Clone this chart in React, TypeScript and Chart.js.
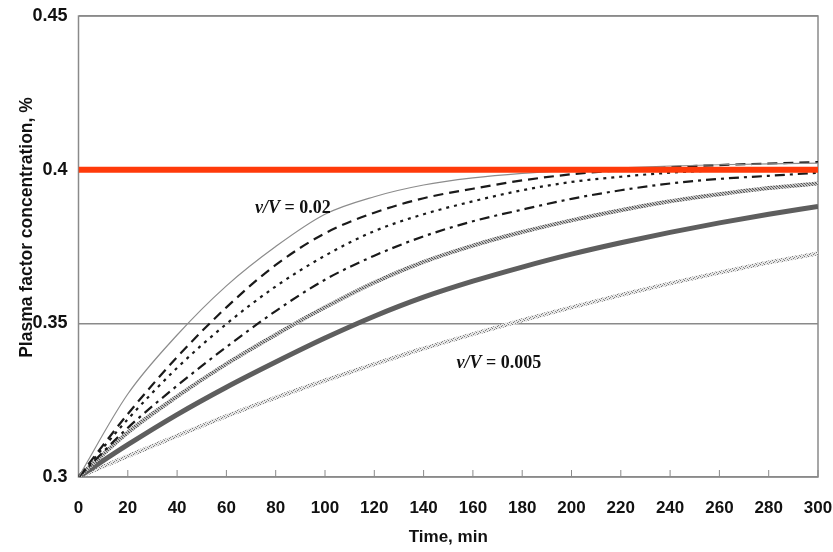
import React, { useEffect, useRef } from "react";
import { Chart, registerables } from "chart.js";

Chart.register(...registerables);

const TIME = [0, 20, 40, 60, 80, 100, 120, 140, 160, 180, 200, 220, 240, 260, 280, 300];
const X_TICKS = [0, 20, 40, 60, 80, 100, 120, 140, 160, 180, 200, 220, 240, 260, 280, 300];
const Y_TICKS = [0.3, 0.35, 0.4, 0.45];

const CURVE_SOLID = [0.3, 0.327, 0.3462, 0.3622, 0.375, 0.3855, 0.3912, 0.395, 0.3973, 0.3988, 0.3998, 0.4006, 0.4012, 0.4016, 0.4019, 0.4021];
const CURVE_DASH = [0.3, 0.3205, 0.339, 0.3552, 0.369, 0.3793, 0.386, 0.3907, 0.3938, 0.3965, 0.3985, 0.3998, 0.4008, 0.4015, 0.402, 0.4025];
const CURVE_DOT = [0.3, 0.3188, 0.3355, 0.3498, 0.362, 0.372, 0.38, 0.3855, 0.3897, 0.3933, 0.396, 0.3977, 0.399, 0.3998, 0.4003, 0.4005];
const CURVE_DASHDOT = [0.3, 0.316, 0.3297, 0.3423, 0.354, 0.3642, 0.372, 0.3783, 0.3832, 0.387, 0.3905, 0.3933, 0.3955, 0.397, 0.398, 0.399];
const CURVE_HATCH = [0.3, 0.3145, 0.3262, 0.3368, 0.3463, 0.3552, 0.3633, 0.37, 0.3753, 0.3797, 0.3835, 0.3868, 0.3897, 0.392, 0.394, 0.3955];
const CURVE_THICK = [0.3, 0.3105, 0.3203, 0.3292, 0.3374, 0.3452, 0.3523, 0.3585, 0.3637, 0.3683, 0.3725, 0.3762, 0.3796, 0.3827, 0.3855, 0.388];
const CURVE_LIGHT = [0.3, 0.3068, 0.3134, 0.3198, 0.3258, 0.3314, 0.3367, 0.3418, 0.3465, 0.351, 0.3552, 0.3592, 0.363, 0.3665, 0.3698, 0.3727];

const TARGET_LEVEL = 0.4;

const LABEL_HIGH = { t: 87, v: 0.3873, ratio: "0.02" };
const LABEL_LOW = { t: 170.5, v: 0.337, ratio: "0.005" };

function makePattern(size: number, cells: [number, number, string][], bg: string) {
  const c = document.createElement("canvas");
  c.width = size;
  c.height = size;
  const g = c.getContext("2d")!;
  g.fillStyle = bg;
  g.fillRect(0, 0, size, size);
  cells.forEach(([x, y, col]) => {
    g.fillStyle = col;
    g.fillRect(x, y, 1, 1);
  });
  return g.createPattern(c, "repeat")!;
}

const pts = (arr: number[]) => arr.map((v, i) => ({ x: TIME[i], y: v }));

const boxPlugin = {
  id: "boxPlugin",
  beforeDatasetsDraw(chart: any) {
    const { ctx, chartArea: a, scales } = chart;
    ctx.save();
    ctx.strokeStyle = "#8a8a8a";
    ctx.lineWidth = 1.5;
    ctx.strokeRect(a.left, a.top, a.right - a.left, a.bottom - a.top);
    ctx.lineWidth = 1;
    X_TICKS.forEach((t) => {
      const x = scales.x.getPixelForValue(t);
      ctx.beginPath();
      ctx.moveTo(x, a.bottom);
      ctx.lineTo(x, a.bottom - 7);
      ctx.stroke();
    });
    ctx.restore();
  },
  afterDraw(chart: any) {
    const { ctx, chartArea: a, scales } = chart;
    ctx.save();
    ctx.translate(27.5, (a.top + a.bottom) / 2 - 19);
    ctx.rotate(-Math.PI / 2);
    ctx.fillStyle = "#111";
    ctx.font = "bold 17.5px 'Liberation Sans', Arial, sans-serif";
    ctx.textAlign = "center";
    ctx.textBaseline = "middle";
    ctx.fillText("Plasma factor concentration, %", 0, 0);
    ctx.restore();

    const drawLabel = (lab: { t: number; v: number; ratio: string }) => {
      const cx = scales.x.getPixelForValue(lab.t);
      const cy = scales.y.getPixelForValue(lab.v);
      ctx.save();
      ctx.fillStyle = "#111";
      ctx.textBaseline = "middle";
      const f1 = "italic bold 18px 'Liberation Serif', 'Times New Roman', serif";
      const f2 = "bold 18px 'Liberation Serif', 'Times New Roman', serif";
      const p1 = "v/V";
      const p2 = " = " + lab.ratio;
      ctx.font = f1;
      const w1 = ctx.measureText(p1).width;
      ctx.font = f2;
      const w2 = ctx.measureText(p2).width;
      const x0 = cx - (w1 + w2) / 2;
      ctx.font = f1;
      ctx.textAlign = "left";
      ctx.fillText(p1, x0, cy);
      ctx.font = f2;
      ctx.fillText(p2, x0 + w1, cy);
      ctx.restore();
    };
    drawLabel(LABEL_HIGH);
    drawLabel(LABEL_LOW);
  },
};

export default function App() {
  const ref = useRef<HTMLCanvasElement | null>(null);

  useEffect(() => {
    const canvas = ref.current!;
    const ctx = canvas.getContext("2d")!;
    const hatch = makePattern(
      3,
      [
        [0, 0, "#555"],
        [1, 1, "#666"],
        [2, 2, "#555"],
        [2, 0, "#999"],
      ],
      "#c4c4c4"
    );
    const light = makePattern(
      4,
      [
        [0, 0, "#777"],
        [2, 1, "#888"],
        [1, 2, "#777"],
        [3, 3, "#888"],
      ],
      "#e6e6e6"
    );

    const common = { pointRadius: 0, fill: false, cubicInterpolationMode: "monotone" as const };

    const chart = new Chart(ctx, {
      type: "line",
      data: {
        datasets: [
          {
            ...common,
            label: "Target",
            data: [
              { x: 0, y: TARGET_LEVEL },
              { x: 300, y: TARGET_LEVEL },
            ],
            borderColor: "#ff3a0a",
            borderWidth: 6,
          },
          { ...common, label: "v/V = 0.02", data: pts(CURVE_SOLID), borderColor: "#8c8c8c", borderWidth: 1.2 },
          { ...common, label: "dash", data: pts(CURVE_DASH), borderColor: "#1a1a1a", borderWidth: 2.2, borderDash: [10, 6] },
          { ...common, label: "dot", data: pts(CURVE_DOT), borderColor: "#1a1a1a", borderWidth: 2.2, borderDash: [3, 5] },
          { ...common, label: "dashdot", data: pts(CURVE_DASHDOT), borderColor: "#1a1a1a", borderWidth: 2.2, borderDash: [10, 5, 3, 5] },
          { ...common, label: "hatch", data: pts(CURVE_HATCH), borderColor: hatch as any, borderWidth: 4 },
          { ...common, label: "thick", data: pts(CURVE_THICK), borderColor: "#5e5e5e", borderWidth: 5 },
          { ...common, label: "v/V = 0.005", data: pts(CURVE_LIGHT), borderColor: light as any, borderWidth: 4 },
        ],
      },
      options: {
        animation: false,
        responsive: false,
        layout: { padding: { top: 16, right: 15, left: 0, bottom: 0 } },
        plugins: { legend: { display: false }, tooltip: { enabled: false } },
        scales: {
          x: {
            type: "linear",
            min: 0,
            max: 300,
            afterFit: (s: any) => {
              s.height = 75;
              s.paddingLeft = 0;
              s.paddingRight = 0;
            },
            afterBuildTicks: (s: any) => {
              s.ticks = X_TICKS.map((v) => ({ value: v }));
            },
            ticks: {
              color: "#111",
              padding: 21,
              maxRotation: 0,
              autoSkip: false,
              font: { family: "'Liberation Sans Narrow', 'Liberation Sans', Arial, sans-serif", weight: "bold", size: 17 },
            },
            grid: { drawOnChartArea: false, drawTicks: false },
            border: { display: false },
            title: {
              display: true,
              text: "Time, min",
              color: "#111",
              padding: { bottom: 4 },
              font: { family: "'Liberation Sans Narrow', 'Liberation Sans', Arial, sans-serif", weight: "bold", size: 17 },
            },
          },
          y: {
            type: "linear",
            min: 0.3,
            max: 0.45,
            afterFit: (s: any) => {
              s.width = 78.5;
              s.paddingTop = 0;
              s.paddingBottom = 0;
            },
            afterBuildTicks: (s: any) => {
              s.ticks = Y_TICKS.map((v) => ({ value: v }));
            },
            ticks: {
              color: "#111",
              padding: 11,
              callback: (v: any) => String(Number(Number(v).toFixed(2))),
              font: { family: "'Liberation Sans', Arial, sans-serif", weight: "bold", size: 18 },
            },
            grid: { color: "#8a8a8a", lineWidth: 1.5, drawTicks: false },
            border: { display: false },
          },
        },
      },
      plugins: [boxPlugin],
    });
    return () => chart.destroy();
  }, []);

  return (
    <div style={{ position: "fixed", left: 0, top: 0, width: 833, height: 552, background: "#fff" }}>
      <canvas ref={ref} width={833} height={552} />
    </div>
  );
}
